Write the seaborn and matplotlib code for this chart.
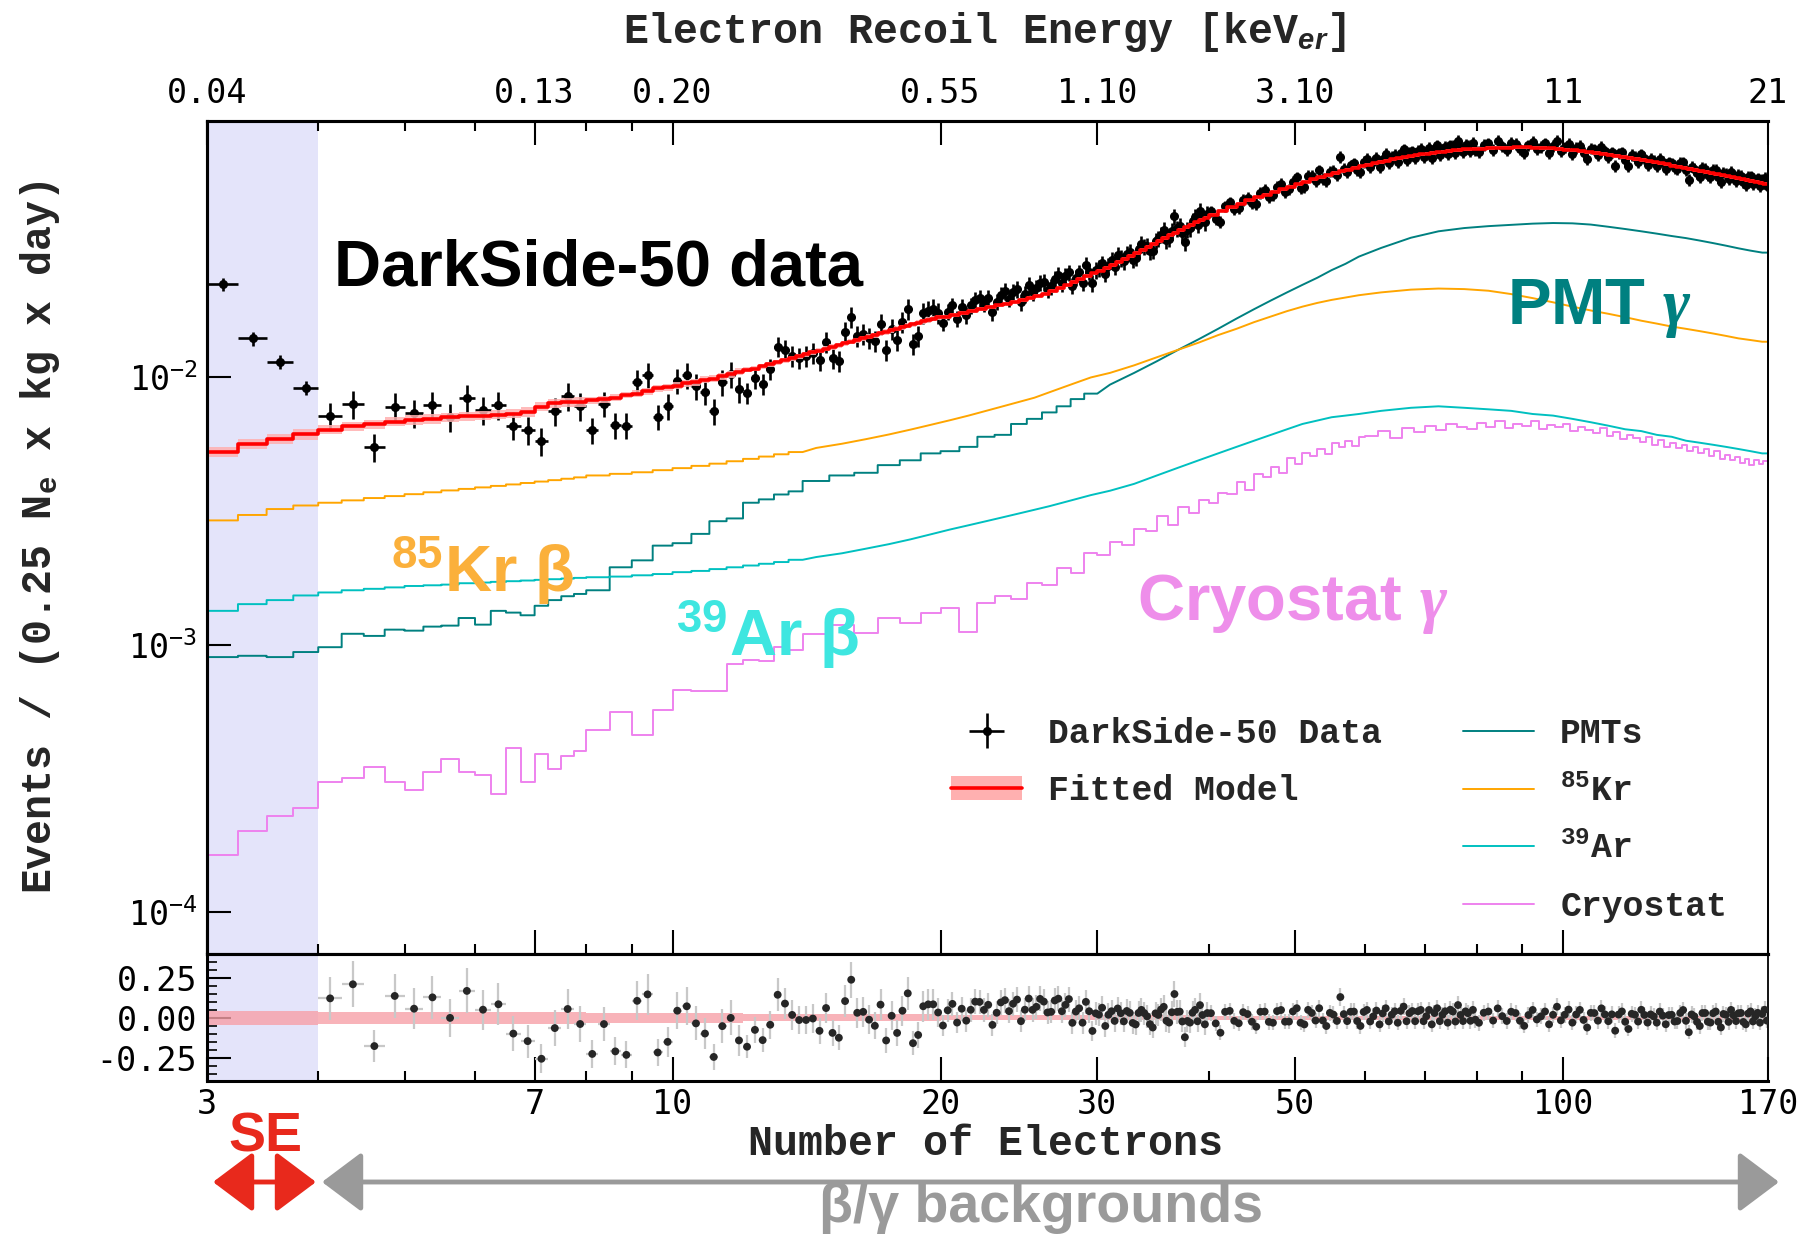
import numpy as np
import pandas as pd
import matplotlib
matplotlib.use("Agg")
import matplotlib.pyplot as plt
import seaborn as sns
from matplotlib.ticker import FixedLocator, FixedFormatter, NullFormatter, NullLocator, MultipleLocator
from matplotlib.patches import FancyArrowPatch, Patch
from matplotlib.lines import Line2D
from matplotlib.legend_handler import HandlerTuple
from matplotlib.font_manager import FontProperties

# ---------------- binning (number of electrons) ----------------
data_edges = np.concatenate([np.arange(3.0, 40.0, 0.25), np.arange(40.0, 80.0, 0.5),
                             np.arange(80.0, 170.01, 1.0)])
model_edges = np.concatenate([np.arange(3.0, 20.0, 0.25), np.arange(20.0, 40.0, 0.5),
                              np.arange(40.0, 80.0, 1.0), np.arange(80.0, 170.01, 2.0)])
comp_edges = np.concatenate([np.arange(3.0, 8.0, 0.25), np.arange(8.0, 14.0, 0.5),
                             np.arange(14.0, 30.0, 1.0), np.arange(30.0, 60.0, 2.0),
                             np.arange(60.0, 170.01, 5.0)])
cryo_edges = np.concatenate([np.arange(3.0, 8.0, 0.25), np.arange(8.0, 14.0, 0.5),
                             np.arange(14.0, 60.0, 1.0), np.arange(60.0, 170.01, 2.0)])

# ---------------- DarkSide-50 data (events / 0.25 Ne / kg / day) ----------------
data_low = [0.0223, 0.0140, 0.01142, 0.00915, 0.00716, 0.00794, 0.00551, 0.00778,
            0.00734, 0.00790, 0.00710, 0.00837, 0.00757, 0.00788, 0.00661, 0.00635,
            0.00579, 0.00749, 0.00852, 0.00779, 0.00635, 0.00798, 0.00664, 0.00661,
            0.00963, 0.01021, 0.00713, 0.00782, 0.00972, 0.01019, 0.00927, 0.00884,
            0.00748, 0.00958, 0.0103, 0.00902, 0.00877, 0.00999, 0.00947, 0.01072,
            0.01305, 0.01264, 0.01202, 0.01184, 0.01204, 0.01235, 0.01158, 0.01359,
            0.01178, 0.01156, 0.01481, 0.01685, 0.01424, 0.01453, 0.01404, 0.01369,
            0.01581, 0.01271, 0.0152, 0.01377, 0.01609, 0.0180, 0.0133, 0.01429,
            0.01738, 0.01779, 0.01801, 0.01737]
data_mid = [0.0160, 0.0176, 0.0186, 0.0166, 0.0184, 0.0171, 0.0186, 0.0195,
            0.0198, 0.0189, 0.0198, 0.0175, 0.0192, 0.0204, 0.0210, 0.0197,
            0.0209, 0.0214, 0.0191, 0.0205, 0.0222, 0.0208, 0.0216, 0.0226,
            0.0227, 0.0213, 0.0219, 0.0234, 0.0242, 0.0225, 0.0239, 0.0247,
            0.0220, 0.0236, 0.0247, 0.0226, 0.0263, 0.0249, 0.0225, 0.0252,
            0.0256, 0.0267, 0.0244, 0.0262, 0.0275, 0.0259, 0.0287, 0.0279,
            0.0272, 0.0290, 0.0294, 0.0276, 0.0280, 0.0301, 0.0315, 0.0309,
            0.0311, 0.0296, 0.0297, 0.0325, 0.0330, 0.0341, 0.0355, 0.0326,
            0.0330, 0.0352, 0.0400, 0.0361, 0.0370, 0.0348, 0.0320, 0.0357,
            0.0361, 0.0384, 0.0399, 0.0372, 0.0419, 0.0395, 0.0380, 0.0408]
data_high = [0.0418, 0.0392, 0.0381, 0.0436, 0.0452, 0.0425, 0.0431, 0.0462,
             0.0470, 0.0448, 0.0445, 0.0489, 0.0502, 0.0471, 0.0480, 0.0516,
             0.0531, 0.0494, 0.0505, 0.0538, 0.0560, 0.0512, 0.0517, 0.0566,
             0.0567, 0.0541, 0.0595, 0.0552, 0.0542, 0.0589, 0.0593, 0.0570,
             0.0667, 0.0604, 0.0587, 0.0622, 0.0632, 0.0596, 0.0586, 0.0640,
             0.0656, 0.0611, 0.0639, 0.0662, 0.0614, 0.0658, 0.0686, 0.0633,
             0.0667, 0.0681, 0.0640, 0.0689, 0.0713, 0.0652, 0.0692, 0.0701,
             0.0663, 0.0705, 0.0716, 0.0668, 0.0694, 0.0721, 0.0663, 0.0712,
             0.0737, 0.0681, 0.0713, 0.0728, 0.0682, 0.0739, 0.0734, 0.0690,
             0.0766, 0.0722, 0.0698, 0.0741, 0.0735, 0.0701, 0.0752, 0.0708]
data_top = [0.0696, 0.0741, 0.0750, 0.0709, 0.0766, 0.0731, 0.0710, 0.0752, 0.0747, 0.0712,
            0.0689, 0.0738, 0.0760, 0.0717, 0.0729, 0.0751, 0.0690, 0.0733, 0.0765, 0.0704,
            0.0725, 0.0748, 0.0685, 0.0721, 0.0736, 0.0692, 0.0654, 0.0718, 0.0712, 0.0679,
            0.0727, 0.0701, 0.0666, 0.0695, 0.0620, 0.0688, 0.0695, 0.0652, 0.0616, 0.0679,
            0.0669, 0.0641, 0.0683, 0.0662, 0.0625, 0.0658, 0.0644, 0.0619, 0.0657, 0.0641,
            0.0601, 0.0637, 0.0632, 0.0606, 0.0602, 0.0633, 0.0638, 0.0597, 0.0548, 0.0615,
            0.0603, 0.0582, 0.0561, 0.0609, 0.0604, 0.0572, 0.0563, 0.0597, 0.0598, 0.0561,
            0.0536, 0.0584, 0.0576, 0.0551, 0.0588, 0.0569, 0.0544, 0.0571, 0.0568, 0.0537,
            0.0525, 0.0562, 0.0565, 0.0531, 0.0544, 0.0556, 0.0519, 0.0548, 0.0558, 0.0522]

# ---------------- fitted model (model binning) ----------------
model_low = [0.00526, 0.00564, 0.0059, 0.00612, 0.00638, 0.00656, 0.00669, 0.00684,
             0.00694, 0.0070, 0.0071, 0.00716, 0.0072, 0.00726, 0.00733, 0.00743,
             0.00778, 0.0080, 0.00807, 0.0081, 0.0082, 0.0083, 0.0084, 0.0086,
             0.0087, 0.0089, 0.0091, 0.0092, 0.0093, 0.0095, 0.0096, 0.0098,
             0.0099, 0.0101, 0.0103, 0.0105, 0.0107, 0.0108, 0.0110, 0.0112,
             0.0114, 0.0116, 0.0118, 0.0120, 0.0122, 0.0124, 0.0126, 0.0128,
             0.0130, 0.0132, 0.0134, 0.0136, 0.0138, 0.0140, 0.0142, 0.0144,
             0.0146, 0.0148, 0.0150, 0.0152, 0.0154, 0.0156, 0.0158, 0.0160,
             0.0162, 0.0164, 0.0166, 0.0168]
model_mid = [0.0168, 0.0171, 0.0174, 0.0177, 0.0180, 0.0183, 0.0186, 0.0189, 0.0192, 0.0195,
             0.0198, 0.0202, 0.0206, 0.0211, 0.0216, 0.0221, 0.0227, 0.0233, 0.0239, 0.0245,
             0.0251, 0.0257, 0.0264, 0.0271, 0.0278, 0.0285, 0.0292, 0.0300, 0.0308, 0.0316,
             0.0324, 0.0332, 0.0340, 0.0348, 0.0356, 0.0364, 0.0372, 0.0380, 0.0388, 0.0396]
model_high = [0.0406, 0.0420, 0.0433, 0.0446, 0.0459, 0.0471, 0.0483, 0.0495, 0.0506, 0.0517,
              0.0528, 0.0539, 0.0550, 0.0561, 0.0571, 0.0581, 0.0590, 0.0599, 0.0608, 0.0617,
              0.0625, 0.0633, 0.0640, 0.0647, 0.0654, 0.0660, 0.0666, 0.0672, 0.0677, 0.0682,
              0.0687, 0.0691, 0.0695, 0.0699, 0.0703, 0.0706, 0.0709, 0.0712, 0.0714, 0.0716]
model_top = [0.0718, 0.0721, 0.0723, 0.0724, 0.0725, 0.0725, 0.0724, 0.0722, 0.0719, 0.0715,
             0.0711, 0.0706, 0.0701, 0.0696, 0.0691, 0.0686, 0.0680, 0.0674, 0.0668, 0.0662,
             0.0656, 0.0650, 0.0644, 0.0638, 0.0632, 0.0626, 0.0620, 0.0614, 0.0608, 0.0602,
             0.0597, 0.0591, 0.0586, 0.0580, 0.0575, 0.0570, 0.0565, 0.0560, 0.0555, 0.0551,
             0.0547, 0.0543, 0.0539, 0.0535, 0.0531]

# relative uncertainties by Ne range (upper edge of range, value)
err_ranges = [4.0, 8.0, 12.0, 20.0, 40.0, 171.0]
data_rel_err = [0.06, 0.12, 0.11, 0.09, 0.07, 0.05]
band_rel_err = [0.045, 0.04, 0.03, 0.022, 0.016, 0.014]

# ---------------- background components (component binning) ----------------
kr85 = [0.00292, 0.00306, 0.00322, 0.00332, 0.0034, 0.00347, 0.00354, 0.0036, 0.00366, 0.00372,
        0.00378, 0.00383, 0.00388, 0.00393, 0.00398, 0.00403, 0.00408, 0.00413, 0.00418, 0.00423,
        0.0043, 0.00436, 0.00442, 0.0045, 0.00458, 0.00467, 0.00476, 0.00486, 0.00496, 0.00506,
        0.00516, 0.00526,
        0.00545, 0.00565, 0.00588, 0.00612, 0.00638, 0.00665, 0.00692, 0.0072, 0.0075, 0.0078,
        0.0081, 0.0084, 0.0088, 0.0092, 0.0096, 0.0100,
        0.0104, 0.0111, 0.0119, 0.0127, 0.0135, 0.0144, 0.0152, 0.0161, 0.0169, 0.0177,
        0.0184, 0.0190, 0.0195, 0.0199, 0.0203,
        0.0208, 0.0213, 0.0215, 0.0214, 0.0211, 0.0205, 0.0198, 0.0191, 0.0184, 0.0178,
        0.0173, 0.0168, 0.0163, 0.0159, 0.0155, 0.0152, 0.0149, 0.0146, 0.0143, 0.0140,
        0.0138, 0.0136]
ar39 = [0.00134, 0.00142, 0.00147, 0.00153, 0.00157, 0.0016, 0.00162, 0.00164, 0.00166, 0.00167,
        0.00168, 0.0017, 0.00171, 0.00172, 0.00173, 0.00174, 0.00175, 0.00176, 0.00177, 0.00178,
        0.00179, 0.0018, 0.00182, 0.00184, 0.00187, 0.00189, 0.00192, 0.00195, 0.00198, 0.00201,
        0.00204, 0.00208,
        0.00213, 0.0022, 0.00229, 0.00238, 0.00248, 0.00259, 0.0027, 0.0028, 0.0029, 0.0030,
        0.0031, 0.0032, 0.0033, 0.00341, 0.00352, 0.00363,
        0.00377, 0.0040, 0.0043, 0.0046, 0.0049, 0.0052, 0.0055, 0.0058, 0.0061, 0.0064,
        0.0067, 0.0069, 0.0071, 0.0072, 0.0073,
        0.0075, 0.0077, 0.0078, 0.0077, 0.0076, 0.0075, 0.0073, 0.0072, 0.0070, 0.0068,
        0.0066, 0.0064, 0.0063, 0.0061, 0.0060, 0.0058, 0.0057, 0.0056, 0.0055, 0.0054,
        0.0053, 0.0052]
pmts = [0.0009, 0.00091, 0.0009, 0.00094, 0.00098, 0.0011, 0.00108, 0.00114, 0.00113, 0.00117,
        0.00118, 0.00126, 0.00119, 0.00134, 0.00132, 0.00129, 0.0014, 0.00147, 0.00152, 0.00155,
        0.0016, 0.00195, 0.00207, 0.00235, 0.0024, 0.0026, 0.0029, 0.00297, 0.0034, 0.0035,
        0.00365, 0.00375,
        0.0041, 0.0043, 0.0044, 0.0047, 0.0049, 0.0052, 0.0053, 0.0055, 0.0060, 0.0061,
        0.0067, 0.0070, 0.0074, 0.0078, 0.0083, 0.0087,
        0.0094, 0.0104, 0.0115, 0.0127, 0.0139, 0.0152, 0.0166, 0.0180, 0.0194, 0.0208,
        0.0222, 0.0236, 0.0252, 0.0266, 0.0283,
        0.0305, 0.0333, 0.0352, 0.0362, 0.0368, 0.0372, 0.0376, 0.0378, 0.0377, 0.0373,
        0.0366, 0.0359, 0.0352, 0.0345, 0.0338, 0.0332, 0.0325, 0.0318, 0.0311, 0.0304,
        0.0298, 0.0293]
# cryostat (cryostat binning)
cryostat = [1.64e-4, 2.01e-4, 2.29e-4, 2.45e-4, 3.07e-4, 3.19e-4, 3.50e-4, 3.07e-4, 2.86e-4, 3.34e-4,
            3.75e-4, 3.35e-4, 3.27e-4, 2.78e-4, 4.13e-4, 3.08e-4, 3.89e-4, 3.42e-4, 3.85e-4, 4.0e-4,
            4.8e-4, 5.6e-4, 4.6e-4, 5.7e-4, 6.8e-4, 6.7e-4, 6.7e-4, 8.5e-4, 8.8e-4, 8.7e-4,
            9.8e-4, 9.6e-4,
            1.10e-3, 1.19e-3, 1.11e-3, 1.26e-3, 1.21e-3, 1.31e-3, 1.37e-3, 1.12e-3, 1.44e-3, 1.52e-3,
            1.49e-3, 1.70e-3, 1.68e-3, 1.93e-3, 1.86e-3, 2.20e-3, 2.16e-3, 2.43e-3, 2.36e-3, 2.72e-3,
            2.66e-3, 3.02e-3, 2.81e-3, 3.27e-3, 3.12e-3, 3.48e-3, 3.39e-3, 3.71e-3, 3.66e-3, 4.08e-3,
            3.80e-3, 4.35e-3, 4.26e-3, 4.62e-3, 4.41e-3, 4.98e-3, 4.76e-3, 5.22e-3, 5.09e-3, 5.41e-3,
            5.18e-3, 5.68e-3, 5.50e-3, 5.80e-3, 5.52e-3, 5.97e-3,
            6.05e-3, 6.30e-3, 5.95e-3, 6.45e-3, 6.25e-3, 6.60e-3, 6.35e-3, 6.70e-3, 6.50e-3, 6.40e-3,
            6.75e-3, 6.55e-3, 6.85e-3, 6.45e-3, 6.70e-3, 6.60e-3, 6.90e-3, 6.40e-3, 6.65e-3, 6.50e-3,
            6.70e-3, 6.30e-3, 6.55e-3, 6.35e-3, 6.20e-3, 6.45e-3, 6.05e-3, 6.25e-3, 5.90e-3, 6.10e-3,
            5.95e-3, 5.75e-3, 6.00e-3, 5.60e-3, 5.85e-3, 5.50e-3, 5.70e-3, 5.45e-3, 5.60e-3, 5.30e-3,
            5.50e-3, 5.20e-3, 5.40e-3, 5.10e-3, 5.30e-3, 4.95e-3, 5.15e-3, 4.90e-3, 5.05e-3, 4.80e-3,
            4.95e-3, 4.70e-3, 4.90e-3, 4.75e-3, 4.85e-3]

comp_names = ["PMTs", "85Kr", "39Ar", "Cryostat"]
comp_colors = {"PMTs": "#008080", "85Kr": "#ffa500", "39Ar": "#00c0c0", "Cryostat": "#ee82ee"}

# top axis: energy labels at Ne tick positions
x_major = [3, 7, 10, 20, 30, 50, 100, 170]
x_minor = [4, 5, 6, 8, 9, 40, 60, 70, 80, 90]
energy_labels = ["0.04", "0.13", "0.20", "0.55", "1.10", "3.10", "11", "21"]

# ---------------- derived arrays ----------------
data = np.array(data_low + data_mid + data_high + data_top)
model = np.array(model_low + model_mid + model_high + model_top)
centers = 0.5 * (data_edges[:-1] + data_edges[1:])
halfw = 0.5 * np.diff(data_edges)
model_at = model[np.searchsorted(model_edges, centers, side="right") - 1]
idx_d = np.searchsorted(err_ranges, centers)
yerr = np.array(data_rel_err)[idx_d] * data
resid = data / model_at - 1.0
rerr = yerr / model_at
mcent = 0.5 * (model_edges[:-1] + model_edges[1:])
band = np.array(band_rel_err)[np.searchsorted(err_ranges, mcent)]

def stepy(v):
    v = np.asarray(v, dtype=float)
    return np.append(v, v[-1])

def comp_path(edges, vals, n_step):
    """histogram steps for the first n_step bins, then through bin centres"""
    cent = 0.5 * (edges[:-1] + edges[1:])
    xs, ys = [], []
    for i in range(n_step):
        xs += [edges[i], edges[i + 1]]
        ys += [vals[i], vals[i]]
    xs += list(cent[n_step:]) + [edges[-1]]
    ys += list(vals[n_step:]) + [vals[-1]]
    return xs, ys

frames = []
for n, e, v, ns in [("PMTs", comp_edges, pmts, 48), ("85Kr", comp_edges, kr85, 32),
                    ("39Ar", comp_edges, ar39, 32), ("Cryostat", cryo_edges, cryostat, len(cryostat))]:
    xs, ys = comp_path(e, v, ns)
    frames.append(pd.DataFrame({"Ne": xs, "rate": ys, "comp": n}))
comp_df = pd.concat(frames, ignore_index=True)

# ---------------- style ----------------
sns.set_theme(style="ticks")
plt.rcParams.update({
    "font.family": ["DejaVu Sans Mono"],
    "mathtext.fontset": "custom",
    "mathtext.rm": "Liberation Sans",
    "mathtext.it": "Liberation Sans:italic:bold",
    "mathtext.bf": "Liberation Sans:bold",
    "mathtext.cal": "Liberation Serif:italic:bold",
    "axes.linewidth": 2.2,
    "axes.edgecolor": "black",
    "xtick.color": "black",
    "ytick.color": "black",
    "axes.facecolor": "white",
    "figure.facecolor": "white",
})

def mono_b(s):
    return FontProperties(family="Liberation Mono", weight="bold", size=s)

def sans_b(s):
    return FontProperties(family="Liberation Sans", weight="bold", size=s)

W, H = 1804, 1237
fig = plt.figure(figsize=(W / 100, H / 100), dpi=100)
L, R = 207, 1768
T, M, B = 121, 954, 1081
ax = fig.add_axes([L / W, 1 - M / H, (R - L) / W, (M - T) / H])
axr = fig.add_axes([L / W, 1 - B / H, (R - L) / W, (B - M) / H], sharex=ax)

lav = "#e4e4fa"
for a in (ax, axr):
    a.axvspan(3, 4, color=lav, lw=0, zorder=0)

# ---------------- main panel ----------------
ax.set_xscale("log")
ax.set_yscale("log")

sns.lineplot(data=comp_df, x="Ne", y="rate", hue="comp", palette=comp_colors,
             hue_order=comp_names, estimator=None, sort=False,
             linewidth=1.4, legend=False, ax=ax, zorder=2)

ax.fill_between(model_edges, stepy(model * (1 - band)), stepy(model * (1 + band)),
                step="post", color="#ffb0b0", alpha=0.85, lw=0, zorder=5)
eb = ax.errorbar(centers, data, yerr=yerr, xerr=halfw, fmt="o", color="black",
                 ms=5.5, elinewidth=1.9, capsize=0, zorder=4)
sns.lineplot(x=model_edges, y=stepy(model), color="red", linewidth=2.6,
             estimator=None, sort=False, drawstyle="steps-post", ax=ax, zorder=6)

ax.set_xlim(3, 170)
ax.set_ylim(6.98e-5, 0.0910)
ax.yaxis.set_major_locator(FixedLocator([1e-4, 1e-3, 1e-2]))
ax.yaxis.set_major_formatter(FixedFormatter([r"$\mathregular{10^{-4}}$",
                                             r"$\mathregular{10^{-3}}$",
                                             r"$\mathregular{10^{-2}}$"]))
ax.yaxis.set_minor_locator(NullLocator())
ax.set_xlabel("")
ax.set_ylabel("")

# ---------------- residual panel ----------------
axr.fill_between(model_edges, stepy(-band), stepy(band), step="post",
                 color="#f7a0a8", alpha=0.8, lw=0, zorder=1)
axr.errorbar(centers, resid, yerr=rerr, xerr=halfw, fmt="none", ecolor="#c8c8c8",
             elinewidth=1.6, capsize=0, zorder=2)
sns.scatterplot(x=centers, y=resid, color="#262626", s=32, edgecolor="none",
                ax=axr, zorder=3)
axr.set_ylim(-0.395, 0.40)
axr.yaxis.set_major_locator(FixedLocator([-0.25, 0.0, 0.25]))
axr.yaxis.set_major_formatter(FixedFormatter(["-0.25", "0.00", "0.25"]))
axr.yaxis.set_minor_locator(MultipleLocator(0.05))
axr.set_xlabel("")
axr.set_ylabel("")

for a in (ax, axr):
    a.set_xscale("log")
    a.set_xlim(3, 170)
    a.xaxis.set_major_locator(FixedLocator(x_major))
    a.xaxis.set_minor_locator(FixedLocator(x_minor))
    a.xaxis.set_minor_formatter(NullFormatter())
    a.grid(False)
    a.spines["right"].set_linewidth(1.3)
axr.xaxis.set_major_formatter(FixedFormatter([str(v) for v in x_major]))

ax.tick_params(axis="x", which="both", direction="in", bottom=True, top=False,
               labelbottom=False)
ax.tick_params(axis="x", which="major", length=17, width=1.5)
ax.tick_params(axis="x", which="minor", length=7, width=1.5)
ax.tick_params(axis="y", which="major", direction="in", left=True, right=False,
               length=17, width=1.5, labelsize=24, pad=7)

axr.tick_params(axis="x", which="both", direction="in", bottom=True, top=False,
                labelsize=24, pad=5)
axr.tick_params(axis="x", which="major", length=17, width=1.5)
axr.tick_params(axis="x", which="minor", length=7, width=1.5)
axr.tick_params(axis="y", which="major", direction="in", left=True, right=False,
                length=17, width=1.5, labelsize=24, pad=7)
axr.tick_params(axis="y", which="minor", direction="in", left=True, right=False,
                length=7, width=1.2)

# top energy axis
axt = ax.twiny()
axt.set_xscale("log")
axt.set_xlim(3, 170)
axt.xaxis.set_major_locator(FixedLocator(x_major))
axt.xaxis.set_major_formatter(FixedFormatter(energy_labels))
axt.xaxis.set_minor_locator(FixedLocator(x_minor))
axt.xaxis.set_minor_formatter(NullFormatter())
axt.tick_params(axis="x", which="both", direction="in", top=True, bottom=False,
                labeltop=True, labelbottom=False, labelsize=24, pad=8)
axt.tick_params(axis="x", which="major", length=17, width=1.5)
axt.tick_params(axis="x", which="minor", length=7, width=1.5)
axt.grid(False)
axt.spines["right"].set_linewidth(1.3)

# ---------------- axis titles ----------------
fig.text(984 / W, 1 - 32 / H, r"Electron Recoil Energy [keV$_{\mathit{er}}$]",
         ha="center", va="center", fontproperties=mono_b(30))
fig.text(985 / W, 1 - 1144 / H, "Number of Electrons", ha="center", va="center",
         fontproperties=mono_b(30))
fig.text(40 / W, 1 - 537 / H, r"Events / (0.25 N$\mathregular{_e}$ x kg x day)",
         ha="center", va="center", rotation=90, fontproperties=mono_b(30))

# ---------------- annotations ----------------
fig.text(334 / W, 1 - 285 / H, "DarkSide-50 data", ha="left", va="baseline",
         fontproperties=sans_b(47), color="black", zorder=10)
fig.text(1507 / W, 1 - 324 / H, r"PMT $\mathcal{γ}$", ha="left", va="baseline",
         fontproperties=sans_b(47), color="#008080", zorder=10)
fig.text(1137 / W, 1 - 620 / H, r"Cryostat $\mathcal{γ}$", ha="left", va="baseline",
         fontproperties=sans_b(47), color="#ee8eea", zorder=10)
fig.text(391 / W, 1 - 592 / H, r"$\mathregular{^{85}}$Kr β", ha="left", va="baseline",
         fontproperties=sans_b(47), color="#fbb03b", zorder=10)
fig.text(676 / W, 1 - 656 / H, r"$\mathregular{^{39}}$Ar β", ha="left", va="baseline",
         fontproperties=sans_b(47), color="#3ee6e0", zorder=10)
fig.text(265 / W, 1 - 1151 / H, "SE", ha="center", va="baseline",
         fontproperties=sans_b(40), color="#e8291c")
fig.text(1041 / W, 1 - 1222 / H, "β/γ backgrounds", ha="center", va="baseline",
         fontproperties=sans_b(40), color="#9a9a9a")

ya = 1 - 1182 / H
fig.add_artist(FancyArrowPatch((213 / W, ya), (316 / W, ya), transform=fig.transFigure,
                               arrowstyle="<|-|>,head_length=1.0,head_width=0.75",
                               mutation_scale=25, color="#e8291c", lw=3.5,
                               shrinkA=0, shrinkB=0))
fig.add_artist(FancyArrowPatch((322 / W, ya), (1779 / W, ya), transform=fig.transFigure,
                               arrowstyle="<|-|>,head_length=1.0,head_width=0.75",
                               mutation_scale=25, color="#9a9a9a", lw=3.5,
                               shrinkA=0, shrinkB=0))

# ---------------- legends ----------------
band_h = Patch(facecolor="#ffb0b0", edgecolor="none")
line_h = Line2D([], [], color="red", lw=2.6)
leg_kw = dict(loc="upper left", bbox_transform=fig.transFigure, frameon=False,
              prop=mono_b(25), handlelength=2.05, handletextpad=0.75, labelspacing=0.70,
              borderpad=0, borderaxespad=0)
leg1 = ax.legend([eb, (band_h, line_h)], ["DarkSide-50 Data", "Fitted Model"],
                 bbox_to_anchor=(951 / W, 1 - 717 / H),
                 handler_map={tuple: HandlerTuple(ndivide=1, pad=0)}, **leg_kw)
ax.add_artist(leg1)
comp_handles = [Line2D([], [], color=comp_colors[n], lw=1.4) for n in comp_names]
comp_labels = ["PMTs", r"$\mathregular{^{85}}$Kr", r"$\mathregular{^{39}}$Ar", "Cryostat"]
ax.legend(comp_handles, comp_labels, bbox_to_anchor=(1463 / W, 1 - 717 / H), **leg_kw)

fig.savefig("out.png", dpi=100)
